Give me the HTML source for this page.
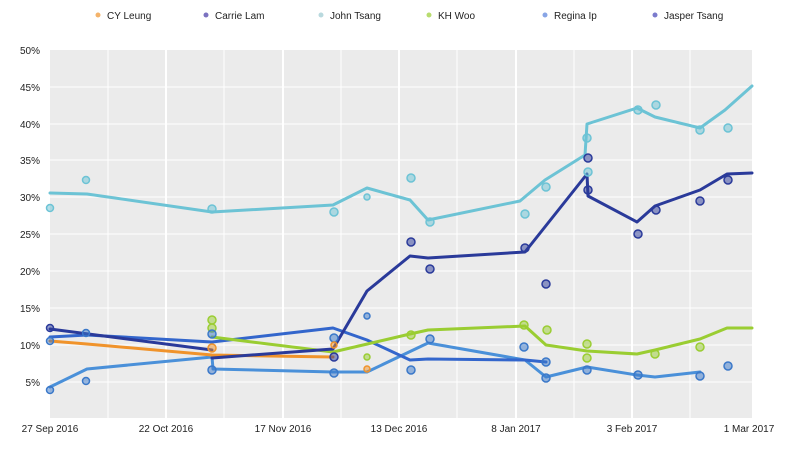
<!DOCTYPE html>
<html><head><meta charset="utf-8"><style>
body{margin:0;background:#fff;font-family:"Liberation Sans",sans-serif;}
svg text{font-family:"Liberation Sans",sans-serif;font-size:10px;fill:#222;}
</style></head><body>
<svg width="800" height="469" viewBox="0 0 800 469">
<rect x="50" y="50" width="702" height="368" fill="#ebebeb"/>
<g stroke="#fff" stroke-width="1">
<line x1="50" y1="87" x2="752" y2="87"/><line x1="50" y1="124" x2="752" y2="124"/>
<line x1="50" y1="160" x2="752" y2="160"/><line x1="50" y1="197" x2="752" y2="197"/>
<line x1="50" y1="234" x2="752" y2="234"/><line x1="50" y1="271" x2="752" y2="271"/>
<line x1="50" y1="308" x2="752" y2="308"/><line x1="50" y1="345" x2="752" y2="345"/>
<line x1="50" y1="382" x2="752" y2="382"/>
<line x1="108" y1="50" x2="108" y2="418"/><line x1="166" y1="50" x2="166" y2="418" stroke-width="2"/>
<line x1="224" y1="50" x2="224" y2="418"/><line x1="283" y1="50" x2="283" y2="418" stroke-width="2"/>
<line x1="341" y1="50" x2="341" y2="418"/><line x1="399" y1="50" x2="399" y2="418" stroke-width="2"/>
<line x1="457" y1="50" x2="457" y2="418"/><line x1="516" y1="50" x2="516" y2="418" stroke-width="2"/>
<line x1="574" y1="50" x2="574" y2="418"/><line x1="632" y1="50" x2="632" y2="418" stroke-width="2"/>
<line x1="690" y1="50" x2="690" y2="418"/>
</g>
<g text-anchor="end">
<text x="40" y="54">50%</text><text x="40" y="91">45%</text><text x="40" y="128">40%</text>
<text x="40" y="164">35%</text><text x="40" y="201">30%</text><text x="40" y="238">25%</text>
<text x="40" y="275">20%</text><text x="40" y="312">15%</text><text x="40" y="349">10%</text>
<text x="40" y="386">5%</text>
</g>
<g text-anchor="middle">
<text x="50" y="432">27 Sep 2016</text><text x="166" y="432">22 Oct 2016</text>
<text x="283" y="432">17 Nov 2016</text><text x="399" y="432">13 Dec 2016</text>
<text x="516" y="432">8 Jan 2017</text><text x="632" y="432">3 Feb 2017</text>
<text x="749" y="432">1 Mar 2017</text>
</g>
<g fill="none" stroke-width="3" stroke-linejoin="round" stroke-linecap="round">
<polyline stroke="#4a90d9" points="50,387 87,369 212,357 213,369 333,372 367,372 428,343 525,360 546,377 587,367 637,375 655,377 700,372"/>
<polyline stroke="#3366cc" points="50,337 87,335 212,342 333,328 367,340 410,360 428,359 525,360 546,362"/>
<polyline stroke="#f0932b" points="50,341 87,344 212,355 333,357"/>
<polyline stroke="#2a3a9a" points="50,329 212,350"/>
<polyline stroke="#9acd32" points="212,337 333,352 410,334 428,330 525,326 546,345 587,351 637,354 655,350 700,339 727,328 752,328"/>
<polyline stroke="#6cc3d5" points="50,193 87,194 212,212 333,205 367,188 410,200 428,220 520,201 545,180 585,155 587,124 637,108 655,117 700,128 725,110 752,86"/>
<polyline stroke="#2a3a9a" points="212,358 333,349 367,291 410,256 428,258 525,252 587,174 588,196 637,222 655,206 700,190 727,174 752,173"/>
</g>
<g stroke-width="1.5" fill-opacity="0.5">
<g fill="#6cc3d5" stroke="#6cc3d5">
<circle cx="50" cy="208" r="3.5"/><circle cx="86" cy="180" r="3.5"/><circle cx="212" cy="209" r="4"/><circle cx="334" cy="212" r="4"/><circle cx="367" cy="197" r="3"/><circle cx="411" cy="178" r="4"/><circle cx="430" cy="222" r="4"/><circle cx="525" cy="214" r="4"/><circle cx="546" cy="187" r="4"/><circle cx="587" cy="138" r="4"/><circle cx="588" cy="172" r="4"/><circle cx="638" cy="110" r="4"/><circle cx="656" cy="105" r="4"/><circle cx="700" cy="130" r="4"/><circle cx="728" cy="128" r="4"/>
</g>
<g fill="#2a3a9a" stroke="#2a3a9a">
<circle cx="50" cy="328" r="3.5"/><circle cx="411" cy="242" r="4"/><circle cx="430" cy="269" r="4"/><circle cx="525" cy="248" r="4"/><circle cx="546" cy="284" r="4"/><circle cx="588" cy="158" r="4"/><circle cx="588" cy="190" r="4"/><circle cx="638" cy="234" r="4"/><circle cx="656" cy="210" r="4"/><circle cx="700" cy="201" r="4"/><circle cx="728" cy="180" r="4"/><circle cx="334" cy="357" r="4"/>
</g>
<g fill="#9acd32" stroke="#9acd32">
<circle cx="212" cy="320" r="4"/><circle cx="212" cy="328" r="4"/><circle cx="367" cy="357" r="3"/><circle cx="411" cy="335" r="4"/><circle cx="524" cy="325" r="4"/><circle cx="547" cy="330" r="4"/><circle cx="587" cy="344" r="4"/><circle cx="587" cy="358" r="4"/><circle cx="655" cy="354" r="4"/><circle cx="700" cy="347" r="4"/>
</g>
<g fill="#3a78c9" stroke="#3a78c9">
<circle cx="50" cy="390" r="3.5"/><circle cx="86" cy="381" r="3.5"/><circle cx="212" cy="370" r="4"/><circle cx="334" cy="373" r="4"/><circle cx="367" cy="316" r="3"/><circle cx="411" cy="370" r="4"/><circle cx="430" cy="339" r="4"/><circle cx="524" cy="347" r="4"/><circle cx="546" cy="378" r="4"/><circle cx="587" cy="370" r="4"/><circle cx="638" cy="375" r="4"/><circle cx="700" cy="376" r="4"/><circle cx="728" cy="366" r="4"/><circle cx="50" cy="341" r="3.5"/><circle cx="86" cy="333" r="3.5"/><circle cx="212" cy="334" r="4"/><circle cx="334" cy="338" r="4"/><circle cx="546" cy="362" r="4"/>
</g>
<g fill="#f0932b" stroke="#f0932b">
<circle cx="212" cy="348" r="4"/><circle cx="367" cy="369" r="3"/><circle cx="334" cy="345" r="3"/>
</g>
</g>
<g font-size="10">
<circle cx="98" cy="15" r="2.5" fill="#f0932b" opacity="0.7"/><text x="107" y="19">CY Leung</text>
<circle cx="206" cy="15" r="2.5" fill="#5a4fb0" opacity="0.8"/><text x="215" y="19">Carrie Lam</text>
<circle cx="321" cy="15" r="2.5" fill="#a8cfd6" opacity="0.8"/><text x="330" y="19">John Tsang</text>
<circle cx="429" cy="15" r="2.5" fill="#9acd32" opacity="0.7"/><text x="438" y="19">KH Woo</text>
<circle cx="545" cy="15" r="2.5" fill="#6a8fe0" opacity="0.8"/><text x="554" y="19">Regina Ip</text>
<circle cx="655" cy="15" r="2.5" fill="#5a5ac0" opacity="0.8"/><text x="664" y="19">Jasper Tsang</text>
</g>
</svg>
</body></html>
